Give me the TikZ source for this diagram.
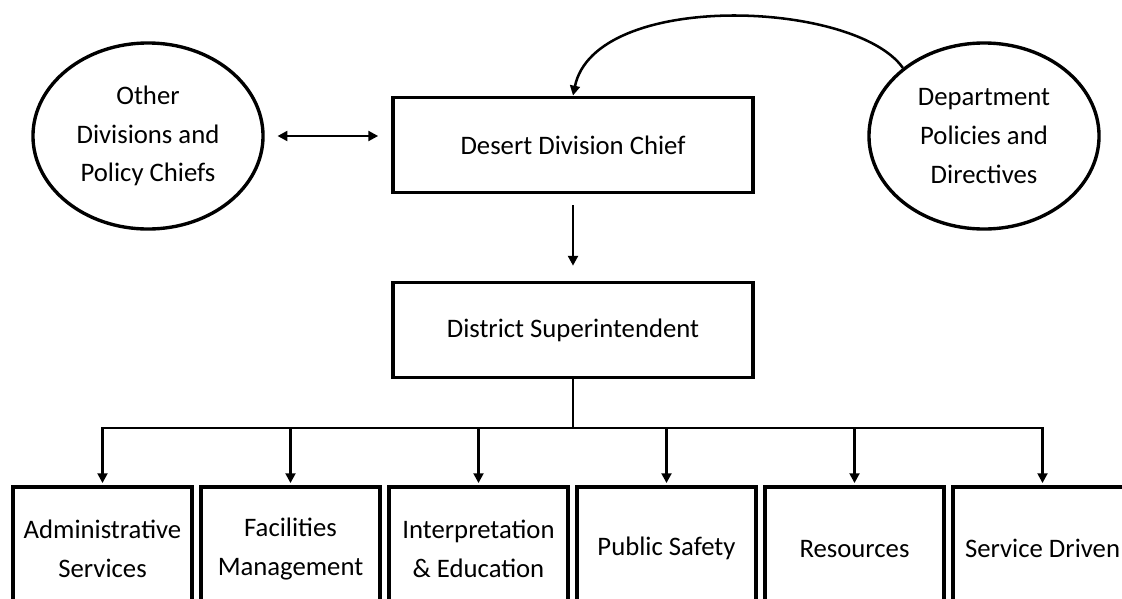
\documentclass[tikz,border=0pt]{standalone}
\usepackage{fontspec}
\setmainfont{Carlito}
\usetikzlibrary{shapes.geometric,arrows.meta}

\begin{document}
\begin{tikzpicture}[x=0.025cm,y=-0.025cm,
    >={Triangle[length=7pt,width=7pt]},
    every node/.style={font=\fontsize{19}{27.5}\selectfont},
    caja/.style={draw,line width=2.8pt,minimum width=9cm,minimum height=2.375cm,inner sep=0pt},
    area/.style={draw,line width=3.2pt,minimum width=4.475cm,minimum height=3.1cm,inner sep=0pt,anchor=north,align=center},
    globo/.style={draw,ellipse,line width=2.4pt,minimum width=5.75cm,minimum height=4.65cm,inner sep=0pt,align=center},
    linea/.style={line width=1.8pt}]
    % Marco
    \useasboundingbox (0,0) rectangle (1122,598);
    \clip (0,0) rectangle (1122,598);
    % Jefaturas
    \node[globo] (otras) at (148,136) {Other\\Divisions and\\Policy Chiefs};
    \node[globo] (politicas) at (984,136) {Department\\Policies and\\Directives};
    \node[caja] (jefe) at (573,145) {Desert Division Chief};
    \node[caja] (super) at (573,330) {District Superintendent};
    \draw[linea,<->,shorten <=0.32cm,shorten >=0.32cm] (otras.east) -- (otras.east -| jefe.west);
    \draw[linea,->] (politicas.140) .. controls (855,0) and (595,-10) .. (jefe.north);
    \draw[linea,->,shorten <=0.27cm,shorten >=0.37cm] (jefe.south) -- (super.north);
    % Areas
    \node[area] (adm) at (102.5,484.5) {Administrative\\Services};
    \node[area] (fac) at (290.5,484.5) {Facilities\\Management};
    \node[area] (int) at (478.5,484.5) {Interpretation\\\& Education};
    \node[area] (pub) at (666.5,484.5) {Public Safety};
    \node[area] (rec) at (854.5,484.5) {Resources};
    \node[area] (ser) at (1042.5,484.5) {Service Driven};
    % Barra
    \coordinate (barra) at (573,428);
    \draw[linea] (super.south) -- (barra);
    \draw[linea,line cap=rect] (adm.north |- barra) -- (ser.north |- barra);
    \foreach \a in {adm,fac,int,pub,rec,ser}
        \draw[linea,->,shorten >=1pt] (\a.north |- barra) -- (\a.north);
\end{tikzpicture}
\end{document}
